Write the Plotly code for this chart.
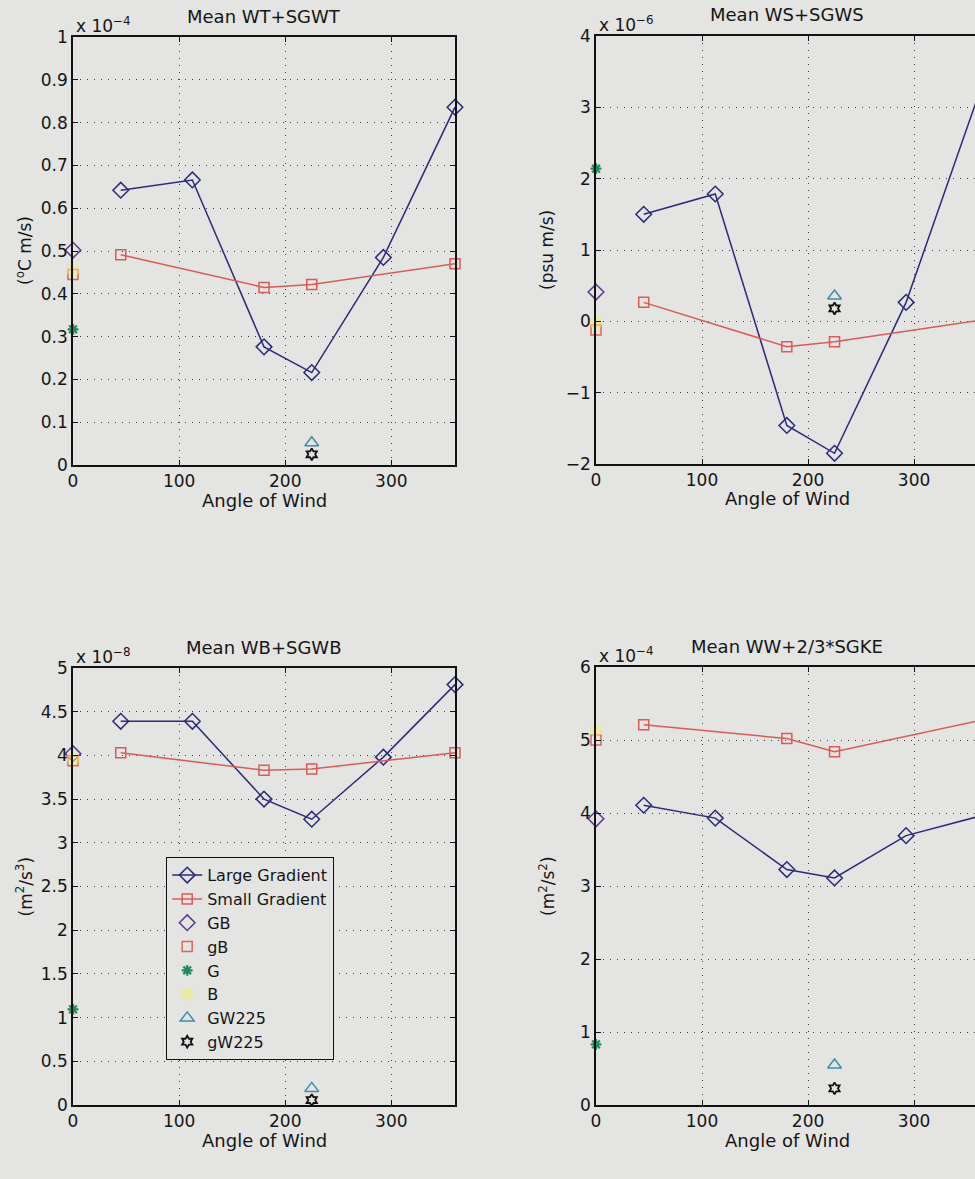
import plotly.graph_objects as go

# ---------------- data (values in the units shown on each axis) ----------------
angles_large = [45, 112.5, 180, 225, 292.5, 360]
angles_small = [45, 180, 225, 360]
x_zero = [0]
x_225 = [225]

# Mean WT+SGWT  (x 1e-4)
wt_large = [0.642, 0.666, 0.276, 0.216, 0.485, 0.836]
wt_small = [0.491, 0.415, 0.422, 0.470]
wt_GB, wt_gB, wt_G, wt_B = [0.502], [0.445], [0.317], [0.455]
wt_GW225, wt_gW225 = [0.052], [0.025]

# Mean WS+SGWS  (x 1e-6)
ws_large = [1.50, 1.785, -1.46, -1.85, 0.266, 3.14]
ws_small = [0.266, -0.356, -0.286, 0.01]
ws_GB, ws_gB, ws_G, ws_B = [0.41], [-0.12], [2.14], [-0.02]
ws_GW225, ws_gW225 = [0.355], [0.18]

# Mean WB+SGWB  (x 1e-8)
wb_large = [4.39, 4.39, 3.50, 3.27, 3.98, 4.81]
wb_small = [4.03, 3.83, 3.845, 4.03]
wb_GB, wb_gB, wb_G, wb_B = [4.02], [3.94], [1.094], [3.96]
wb_GW225, wb_gW225 = [0.19], [0.057]

# Mean WW+2/3*SGKE  (x 1e-4)
ww_large = [4.106, 3.93, 3.225, 3.11, 3.69, 3.95]
ww_small = [5.21, 5.02, 4.84, 5.26]
ww_GB, ww_gB, ww_G, ww_B = [3.92], [5.0], [0.83], [5.13]
ww_GW225, ww_gW225 = [0.547], [0.228]

titles = ["Mean WT+SGWT", "Mean WS+SGWS", "Mean WB+SGWB", "Mean WW+2/3*SGKE"]
exponents = ["x 10<sup>−4</sup>", "x 10<sup>−6</sup>", "x 10<sup>−8</sup>", "x 10<sup>−4</sup>"]
ylabels = ["(<sup>o</sup>C m/s)", "(psu m/s)", "(m<sup>2</sup>/s<sup>3</sup>)", "(m<sup>2</sup>/s<sup>2</sup>)"]
xlabel = "Angle of Wind"
xticks = [0, 100, 200, 300]

panels = [
    (wt_large, wt_small, wt_GB, wt_gB, wt_G, wt_B, wt_GW225, wt_gW225),
    (ws_large, ws_small, ws_GB, ws_gB, ws_G, ws_B, ws_GW225, ws_gW225),
    (wb_large, wb_small, wb_GB, wb_gB, wb_G, wb_B, wb_GW225, wb_gW225),
    (ww_large, ww_small, ww_GB, ww_gB, ww_G, ww_B, ww_GW225, ww_gW225),
]
yranges = [[0, 1], [-2, 4], [0, 5], [0, 6]]
ydticks = [0.1, 1, 0.5, 1]

# ---------------- styling ----------------
W, H = 975, 1179
BG = "#e4e4e2"
FONT = "DejaVu Sans, Verdana, sans-serif"
FS = 17
FT = 18
C_LARGE = "#2c2a78"
C_SMALL = "#d85c55"
C_GB = "#5a3a8c"
C_gB = "#e0625a"
C_G = "#1f8a5c"
C_B = "rgba(238,238,110,0.55)"
C_GW = "#3f8ca6"
C_gW = "#111111"
GRID = "#3a3a3a"
TXT = "#151515"

# pixel layout of plot areas (left, right, top, bottom)
boxes = [(73, 455, 37, 465), (596, 975, 36, 464), (73, 455, 668, 1105), (596, 975, 667, 1105)]
xranges = [[0, 360], [0, 357.5], [0, 360], [0, 357.5]]

fig = go.Figure()

for i, (large, small, GB, gB, G, B, GW, gW) in enumerate(panels):
    k = "" if i == 0 else str(i + 1)
    xa, ya = "x" + k, "y" + k
    show = (i == 2)
    common = dict(xaxis=xa, yaxis=ya, cliponaxis=False, showlegend=show)
    fig.add_trace(go.Scatter(x=angles_large, y=large, mode="lines+markers", name="Large Gradient",
                             line=dict(color=C_LARGE, width=1.5),
                             marker=dict(symbol="diamond-open", size=12, color=C_LARGE,
                                         line=dict(color=C_LARGE, width=1.5)), **common))
    fig.add_trace(go.Scatter(x=angles_small, y=small, mode="lines+markers", name="Small Gradient",
                             line=dict(color=C_SMALL, width=1.5),
                             marker=dict(symbol="square-open", size=10, color=C_SMALL,
                                         line=dict(color=C_SMALL, width=1.5)), **common))
    fig.add_trace(go.Scatter(x=x_zero, y=GB, mode="markers", name="GB",
                             marker=dict(symbol="diamond-open", size=12, color=C_GB,
                                         line=dict(color=C_GB, width=1.5)), **common))
    fig.add_trace(go.Scatter(x=x_zero, y=gB, mode="markers", name="gB",
                             marker=dict(symbol="square-open", size=10, color=C_gB,
                                         line=dict(color=C_gB, width=1.5)), **common))
    fig.add_trace(go.Scatter(x=x_zero, y=G, mode="markers", name="G",
                             marker=dict(symbol="asterisk-open", size=9, color=C_G,
                                         line=dict(color=C_G, width=2.2)), **common))
    fig.add_trace(go.Scatter(x=x_zero, y=B, mode="markers", name="B",
                             marker=dict(symbol="circle", size=13, color=C_B,
                                         line=dict(width=0)), **common))
    fig.add_trace(go.Scatter(x=x_225, y=GW, mode="markers", name="GW225",
                             marker=dict(symbol="triangle-up-open", size=12, color=C_GW,
                                         line=dict(color=C_GW, width=1.5)), **common))
    fig.add_trace(go.Scatter(x=x_225, y=gW, mode="markers", name="gW225",
                             marker=dict(symbol="hexagram-open", size=9, color=C_gW,
                                         line=dict(color=C_gW, width=1.8)), **common))

layout = dict(
    width=W, height=H, margin=dict(l=0, r=0, t=0, b=0),
    paper_bgcolor=BG, plot_bgcolor=BG,
    font=dict(family=FONT, size=FS, color=TXT),
    legend=dict(x=166 / W, y=1 - 857 / H, xanchor="left", yanchor="top",
                bgcolor=BG, bordercolor="#111", borderwidth=1.2,
                font=dict(family=FONT, size=16, color=TXT),
                tracegroupgap=0, itemwidth=30),
)

annotations = []
for i in range(4):
    l, r, t, b = boxes[i]
    k = "" if i == 0 else str(i + 1)
    right_col = i in (1, 3)
    layout["xaxis" + k] = dict(
        domain=[l / W, r / W], range=xranges[i], anchor="y" + k,
        tickvals=xticks, ticks="inside", ticklen=5, tickcolor="#111",
        showline=True, linecolor="#111", linewidth=1.5, mirror="ticks",
        showgrid=True, gridcolor=GRID, griddash="1px,6px", gridwidth=1,
        zeroline=False, tickfont=dict(size=FS, family=FONT, color=TXT), automargin=False,
    )
    layout["yaxis" + k] = dict(
        domain=[1 - b / H, 1 - t / H], range=yranges[i], anchor="x" + k,
        dtick=ydticks[i], tick0=0, ticks="inside", ticklen=5, tickcolor="#111",
        showline=True, linecolor="#111", linewidth=1.5,
        mirror=False if right_col else "ticks",
        showgrid=True, gridcolor=GRID, griddash="1px,6px", gridwidth=1,
        zeroline=False, tickfont=dict(size=FS, family=FONT, color=TXT), automargin=False,
    )
    cx = (l + (l + 382)) / 2 / W
    # title
    annotations.append(dict(text=titles[i], xref="paper", yref="paper", x=cx, y=1 - (t - 21) / H,
                            xanchor="center", yanchor="middle", showarrow=False,
                            font=dict(size=FT, family=FONT, color=TXT)))
    # exponent
    annotations.append(dict(text=exponents[i], xref="paper", yref="paper", x=(l + 1) / W, y=1 - (t - 12) / H,
                            xanchor="left", yanchor="middle", showarrow=False,
                            font=dict(size=FS, family=FONT, color=TXT)))
    # x label
    annotations.append(dict(text=xlabel, xref="paper", yref="paper", x=cx, y=1 - (b + 35) / H,
                            xanchor="center", yanchor="middle", showarrow=False,
                            font=dict(size=FT, family=FONT, color=TXT)))
    # y label
    annotations.append(dict(text=ylabels[i], xref="paper", yref="paper", x=(l - 49) / W,
                            y=1 - ((t + b) / 2) / H,
                            xanchor="center", yanchor="middle", textangle=-90, showarrow=False,
                            font=dict(size=FS, family=FONT, color=TXT)))

layout["annotations"] = annotations
fig.update_layout(**layout)
fig.write_html("out.html")
